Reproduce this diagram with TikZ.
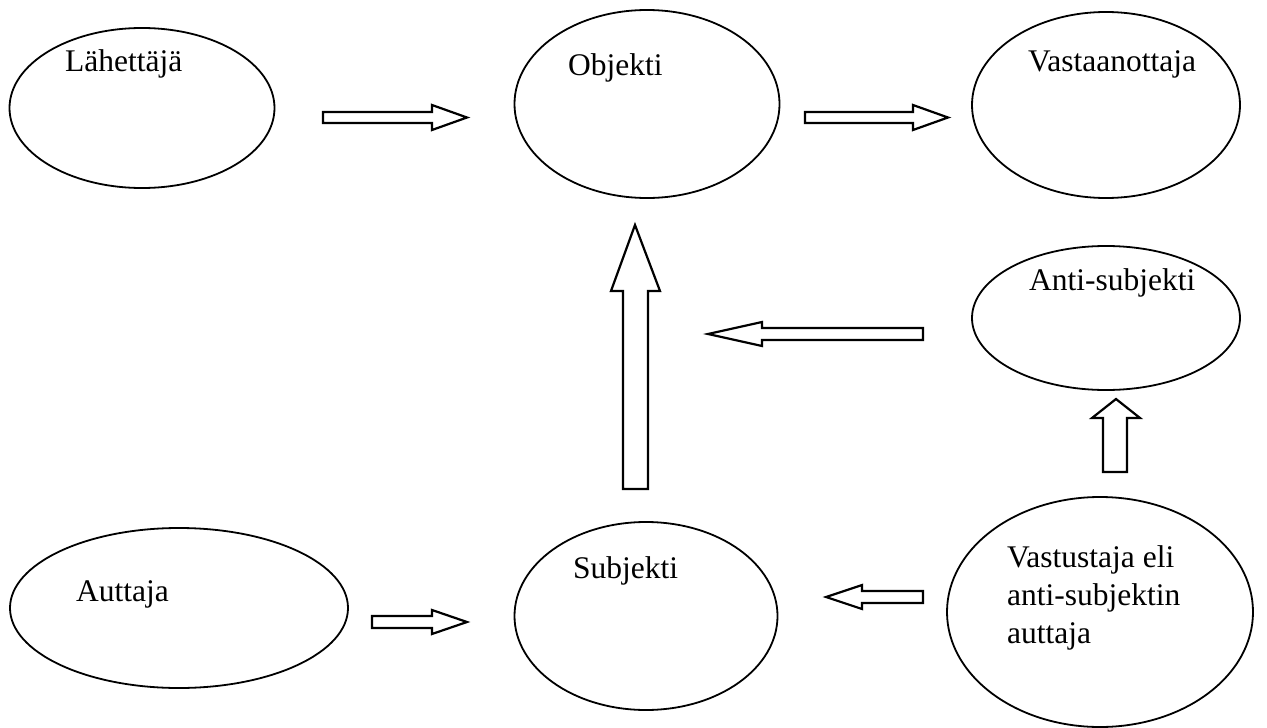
\documentclass[tikz,border=0pt]{standalone}
\usepackage{fontspec}
\setmainfont{Liberation Serif}
\usetikzlibrary{shapes.geometric}

\tikzset{
  oval/.style={ellipse, draw, line width=1.8pt, inner sep=0pt},
  label/.style={anchor=base west, inner sep=0pt, font=\fontsize{31.5}{38}\selectfont, align=left},
  blockarrow/.style={draw, line width=2.2pt, line join=miter, fill=white}
}

\begin{document}
\begin{tikzpicture}[x=1pt,y=-1pt]
  \useasboundingbox (0,0) rectangle (1267,728);

  % the ovals
  \node[oval, minimum width=265pt, minimum height=160pt] (lahettaja) at (142,108) {};
  \node[oval, minimum width=265pt, minimum height=188pt] (objekti) at (647,104) {};
  \node[oval, minimum width=268pt, minimum height=186pt] (vastaanottaja) at (1106,105) {};
  \node[oval, minimum width=268pt, minimum height=144pt] (antisubjekti) at (1106,318) {};
  \node[oval, minimum width=338pt, minimum height=160pt] (auttaja) at (179,608) {};
  \node[oval, minimum width=263pt, minimum height=188pt] (subjekti) at (646,616) {};
  \node[oval, minimum width=306pt, minimum height=230pt] (vastustaja) at (1100,612) {};

  % their texts
  \node[label] (t-lahettaja) at (65,71) {Lähettäjä};
  \node[label] (t-objekti) at (568,75) {Objekti};
  \node[label] (t-vastaanottaja) at (1028,71) {Vastaanottaja};
  \node[label] (t-antisubjekti) at (1029,290) {Anti-subjekti};
  \node[label] (t-auttaja) at (76,601) {Auttaja};
  \node[label] (t-subjekti) at (573,578) {Subjekti};
  \node[label] (t-vastustaja) at (1007,643) {Vastustaja eli\\anti-subjektin\\auttaja};

  % block arrows
  \draw[blockarrow] (323,112) -- (432,112) -- (432,105) -- (467,117.5)
    -- (432,130) -- (432,123) -- (323,123) -- cycle;
  \draw[blockarrow] (805,112) -- (913,112) -- (913,105) -- (948,117.5)
    -- (913,130) -- (913,123) -- (805,123) -- cycle;
  \draw[blockarrow] (623,489) -- (623,291) -- (611,291) -- (635,225)
    -- (660,291) -- (648,291) -- (648,489) -- cycle;
  \draw[blockarrow] (923,328) -- (762,328) -- (762,322) -- (708,334)
    -- (762,346) -- (762,340) -- (923,340) -- cycle;
  \draw[blockarrow] (1103,472) -- (1103,418) -- (1092,418) -- (1116,399)
    -- (1140,418) -- (1127,418) -- (1127,472) -- cycle;
  \draw[blockarrow] (372,616) -- (432,616) -- (432,610) -- (467,622)
    -- (432,634) -- (432,628) -- (372,628) -- cycle;
  \draw[blockarrow] (923,591) -- (862,591) -- (862,585) -- (826,597)
    -- (862,609) -- (862,603) -- (923,603) -- cycle;
\end{tikzpicture}
\end{document}
